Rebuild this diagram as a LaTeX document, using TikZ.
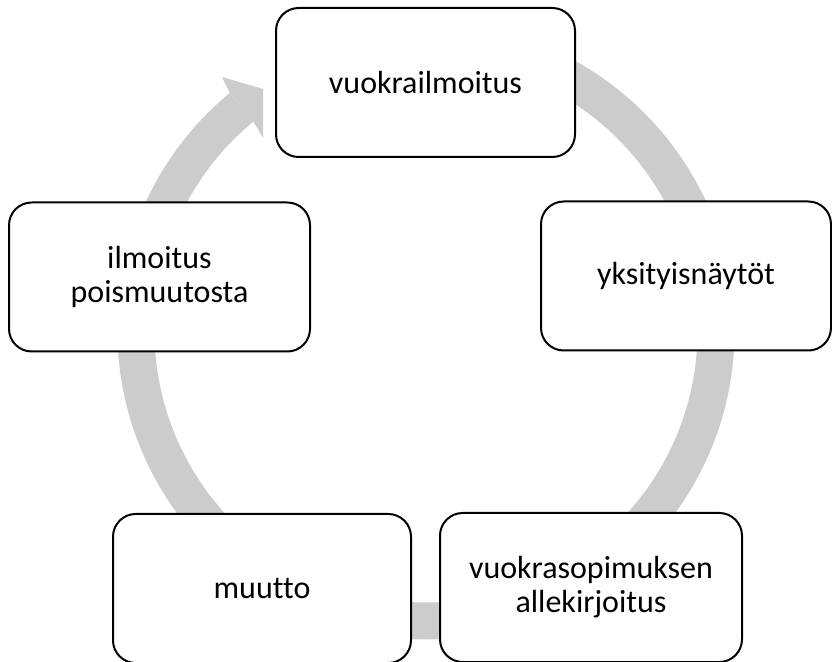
\documentclass[tikz,border=0pt]{standalone}
\usepackage{fontspec}
\setmainfont{Carlito}[Ligatures=NoCommon]
\usepackage{tikz}
\usetikzlibrary{calc}

\definecolor{ringgray}{RGB}{204,204,204}
\tikzset{
  cyclebox/.style={draw=black,line width=1.5pt,fill=white,rounded corners=17pt,
    minimum height=149*0.75pt,minimum width=299*0.75pt,inner sep=0pt,align=center,
    font=\fontsize{24}{25.5}\selectfont},
  ring/.style={draw=ringgray,line width=37*0.75pt}
}

\begin{document}
\begin{tikzpicture}[x=0.75pt,y=0.75pt]
          \useasboundingbox (0,0) rectangle (832,661);
          \coordinate (c) at (426,330);
          % grey cycle ring with its head
          \draw[ring] ($(c)+(90:290)$) arc[start angle=90,end angle=-230.5,radius=290];
          \fill[ringgray] ($(c)+(129.5:308.5)$) -- (222,584) -- (263,572) -- (263,523) -- ($(c)+(129.5:271.5)$) -- cycle;
          % boxes
          \node[cyclebox] (ilmoitus) at (425.5,578.5) {vuokrailmoitus};
          \node[cyclebox,minimum width=290*0.75pt] (naytot) at (686,385) {yksityisnäytöt};
          \node[cyclebox,minimum width=302*0.75pt] (sopimus) at (591,73.5) {vuokrasopimuksen\\allekirjoitus};
          \node[cyclebox,minimum width=298*0.75pt] (muutto) at (262,72.5) {muutto};
          \node[cyclebox,minimum width=301*0.75pt] (poismuutto) at (159.5,384) {ilmoitus\\poismuutosta};
        \end{tikzpicture}
\end{document}
